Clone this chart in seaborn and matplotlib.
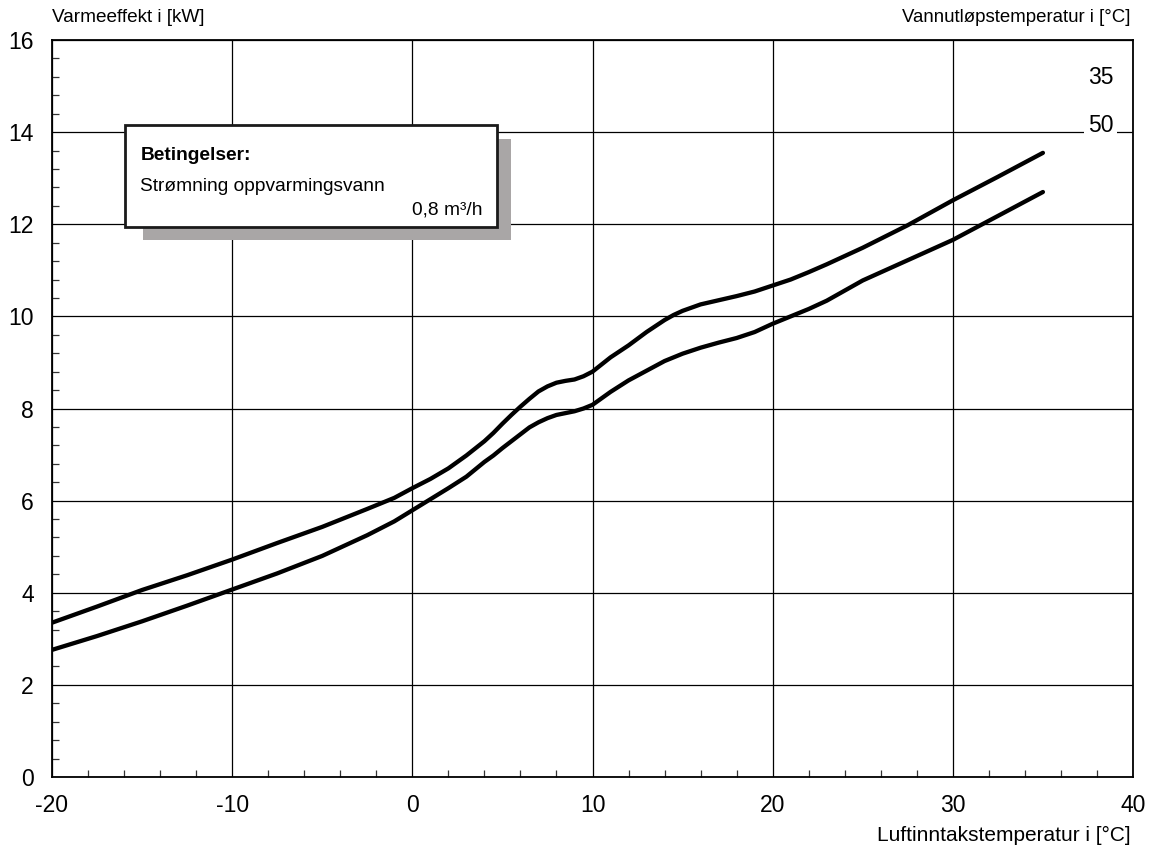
import matplotlib
matplotlib.use("Agg")
import matplotlib.pyplot as plt
from matplotlib.patches import Rectangle
from matplotlib.ticker import MultipleLocator
import numpy as np
import pandas as pd
import seaborn as sns

# ---- data ----
x_35 = [-20, -17.5, -15, -12.5, -10, -7.5, -5, -2.5, -1, 0, 1, 2, 3, 4, 4.5, 5, 5.5, 6, 6.5,
        7, 7.5, 8, 8.5, 9, 9.5, 10, 11, 12, 13, 14, 14.5, 15, 15.5, 16, 17, 18, 19, 20,
        21, 22, 23, 25, 27.5, 30, 32.5, 35]
y_35 = [3.35, 3.70, 4.06, 4.38, 4.72, 5.08, 5.43, 5.82, 6.06, 6.27, 6.47, 6.70, 6.98, 7.29,
        7.47, 7.67, 7.86, 8.04, 8.21, 8.37, 8.48, 8.56, 8.60, 8.63, 8.70, 8.80, 9.11, 9.37,
        9.66, 9.92, 10.03, 10.12, 10.19, 10.26, 10.35, 10.44, 10.54, 10.67, 10.80, 10.96,
        11.13, 11.49, 11.98, 12.52, 13.03, 13.55]
x_50 = [-20, -17.5, -15, -12.5, -10, -7.5, -5, -2.5, -1, 0, 1, 2, 3, 4, 4.5, 5, 5.5, 6, 6.5,
        7, 7.5, 8, 8.5, 9, 9.5, 10, 11, 12, 13, 14, 15, 16, 17, 18, 19, 20,
        21, 22, 23, 25, 27.5, 30, 32.5, 35]
y_50 = [2.76, 3.06, 3.38, 3.72, 4.07, 4.42, 4.80, 5.25, 5.55, 5.79, 6.03, 6.27, 6.52, 6.84,
        6.98, 7.14, 7.29, 7.44, 7.59, 7.70, 7.79, 7.86, 7.90, 7.94, 8.00, 8.08, 8.36, 8.61,
        8.82, 9.03, 9.19, 9.32, 9.43, 9.53, 9.66, 9.84, 10.00, 10.16, 10.34, 10.78, 11.22,
        11.66, 12.18, 12.70]
series_names = ["35", "50"]
x_ticks = [-20, -10, 0, 10, 20, 30, 40]
y_ticks = [0, 2, 4, 6, 8, 10, 12, 14, 16]

df = pd.concat([
    pd.DataFrame({"x": x_35, "y": y_35, "s": series_names[0]}),
    pd.DataFrame({"x": x_50, "y": y_50, "s": series_names[1]}),
])

sns.set_theme(style="white")
plt.rcParams["font.family"] = ["Liberation Sans", "DejaVu Sans"]
plt.rcParams["axes.unicode_minus"] = False
plt.rcParams["text.color"] = "black"

fig = plt.figure(figsize=(11.52, 8.52), dpi=100)
ax = fig.add_axes([52 / 1152, 1 - 777 / 852, (1133 - 52) / 1152, (777 - 40) / 852])

sns.lineplot(data=df, x="x", y="y", hue="s", palette=["black", "black"],
             linewidth=3.1, legend=False, ax=ax, sort=False, zorder=4)
for ln in ax.lines:
    ln.set_solid_capstyle("round")
    ln.set_solid_joinstyle("round")

ax.set_xlim(-20, 40)
ax.set_ylim(0, 16)
ax.set_xticks(x_ticks)
ax.set_yticks(y_ticks)
ax.xaxis.set_minor_locator(MultipleLocator(2))
ax.yaxis.set_minor_locator(MultipleLocator(0.4))
ax.grid(True, which="major", color="black", linewidth=0.9)
ax.set_axisbelow(True)
ax.tick_params(axis="both", which="major", length=0, labelsize=16.5, colors="black")
ax.tick_params(axis="x", which="major", pad=12)
ax.tick_params(axis="y", which="major", pad=13)
ax.tick_params(axis="both", which="minor", direction="in", length=5, width=0.9,
               color="#333333", bottom=True, left=True)
for sp in ax.spines.values():
    sp.set_color("black")
    sp.set_linewidth(1.3)
ax.set_xlabel("")
ax.set_ylabel("")

# condition box with shadow
ax.add_patch(Rectangle((-14.93, 11.66), 20.42, 2.19, facecolor="#a9a6a6",
                       edgecolor="none", zorder=5))
ax.add_patch(Rectangle((-15.93, 11.94), 20.65, 2.22, facecolor="white",
                       edgecolor="#1a1a1a", linewidth=2.0, zorder=6))
ax.text(-15.1, 13.50, "Betingelser:", fontsize=13.8, fontweight="bold",
        va="center", ha="left", zorder=7, color="black")
ax.text(-15.1, 12.83, "Strømning oppvarmingsvann", fontsize=13.8,
        va="center", ha="left", zorder=7, color="black")
ax.text(3.88, 12.31, "0,8 m³/h", fontsize=13.8, va="center", ha="right", zorder=7,
        color="black")

# series labels on the right
ax.text(38.2, 15.18, series_names[0], fontsize=16.5, ha="center", va="center", zorder=7,
        color="black")
ax.text(38.2, 14.15, series_names[1], fontsize=16.5, ha="center", va="center", zorder=7,
        color="black", bbox=dict(facecolor="white", edgecolor="none", pad=3))

fig.text(52 / 1152, 1 - 18 / 852, "Varmeeffekt i [kW]", fontsize=13.7,
         ha="left", va="center", color="black")
fig.text(1130 / 1152, 1 - 18 / 852, "Vannutløpstemperatur i [°C]", fontsize=13.4,
         ha="right", va="center", color="black")
fig.text(1131 / 1152, 1 - 835 / 852, "Luftinntakstemperatur i [°C]", fontsize=15,
         ha="right", va="center", color="black")

fig.savefig("out.png", dpi=100, facecolor="white")
